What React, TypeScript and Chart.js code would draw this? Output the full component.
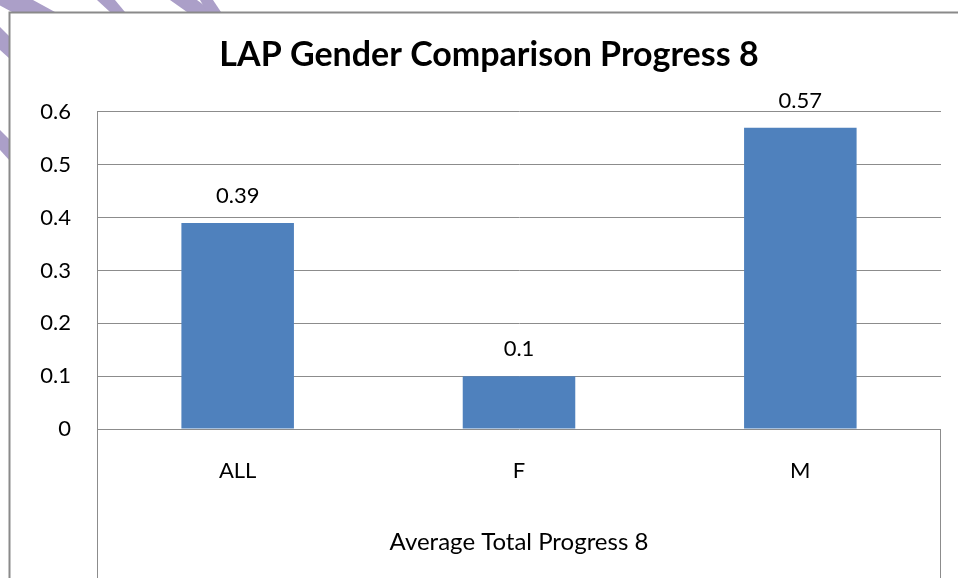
import React, { useEffect, useRef } from "react";
import { Chart, registerables } from "chart.js";

Chart.register(...registerables);

// ---- data ----
const categories = ["ALL", "F", "M"];
const values = [0.39, 0.1, 0.57];
const valueLabels = ["0.39", "0.1", "0.57"];
const yTicks = [0, 0.1, 0.2, 0.3, 0.4, 0.5, 0.6];
const chartTitle = "LAP Gender Comparison Progress 8";
const xAxisTitle = "Average Total Progress 8";

// ---- styling ----
const FONT = "Lato, 'Open Sans', sans-serif";
const BAR_COLOR = "#4F81BD";
const GRID_COLOR = "#8c8c8c";
const FRAME_COLOR = "#8a8a8a";
const STRIPE_COLOR = "#ab9fc8";
// decorative lavender stripes peeking out behind the frame (top-left corner)
const decorStripes: number[][][] = [
  [[-10, 0], [33, 0], [55, 12], [12, 12]],
  [[97, 0], [115, 0], [125, 12], [110, 12]],
  [[170, 0], [197, 0], [213, 12], [187, 12]],
  [[200, 0], [213, 0], [221, 12], [207, 12]],
  [[0, 27], [0, 50], [10, 59], [10, 37]],
  [[0, 130], [0, 150], [10, 161], [10, 140]],
];

const decorPlugin = {
  id: "decor",
  beforeDraw(chart: any) {
    const { ctx, width, height } = chart;
    ctx.save();
    ctx.fillStyle = "#ffffff";
    ctx.fillRect(0, 0, width, height);
    ctx.beginPath();
    ctx.rect(0, 0, width, 12);
    ctx.rect(0, 12, 9, height);
    ctx.clip();
    ctx.fillStyle = STRIPE_COLOR;
    for (const poly of decorStripes) {
      ctx.beginPath();
      poly.forEach(([x, y], i) => (i === 0 ? ctx.moveTo(x, y) : ctx.lineTo(x, y)));
      ctx.closePath();
      ctx.fill();
    }
    ctx.restore();
    ctx.save();
    ctx.strokeStyle = FRAME_COLOR;
    ctx.lineWidth = 2;
    ctx.beginPath();
    ctx.moveTo(9.5, height + 2);
    ctx.lineTo(9.5, 12.5);
    ctx.lineTo(width + 2, 12.5);
    ctx.stroke();
    ctx.restore();
  },
  afterDraw(chart: any) {
    const { ctx, chartArea, height } = chart;
    ctx.save();
    ctx.strokeStyle = GRID_COLOR;
    ctx.lineWidth = 1;
    ctx.beginPath();
    const l = Math.round(chartArea.left) + 0.5;
    const r = Math.round(chartArea.right) - 0.5;
    ctx.moveTo(l, chartArea.top);
    ctx.lineTo(l, height);
    ctx.moveTo(r, chartArea.bottom);
    ctx.lineTo(r, height);
    ctx.stroke();
    ctx.restore();
  },
  afterDatasetsDraw(chart: any) {
    const { ctx } = chart;
    const meta = chart.getDatasetMeta(0);
    ctx.save();
    ctx.fillStyle = "#000";
    ctx.font = `22px ${FONT}`;
    ctx.textAlign = "center";
    ctx.textBaseline = "alphabetic";
    meta.data.forEach((el: any, i: number) => {
      ctx.fillText(valueLabels[i], el.x, el.y - 20);
    });
    ctx.restore();
  },
};

export default function App() {
  const ref = useRef<HTMLCanvasElement | null>(null);

  useEffect(() => {
    if (!ref.current) return;
    const chart = new Chart(ref.current, {
      type: "bar",
      data: {
        labels: categories,
        datasets: [
          {
            data: values,
            backgroundColor: BAR_COLOR,
            borderWidth: 0,
            categoryPercentage: 1,
            barPercentage: 0.4,
          },
        ],
      },
      options: {
        responsive: false,
        animation: false,
        events: [],
        layout: { padding: { left: 37, right: 17, top: 0, bottom: 0 } },
        plugins: {
          legend: { display: false },
          tooltip: { enabled: false },
          title: {
            display: true,
            text: chartTitle,
            color: "#000",
            font: { family: FONT, size: 34, weight: "bold", lineHeight: 1.2 },
            padding: { top: 34.4, bottom: 36.8 },
          },
        },
        scales: {
          x: {
            grid: { display: false, drawTicks: false },
            border: { display: false },
            ticks: {
              color: "#000",
              font: { family: FONT, size: 22, lineHeight: 1.2 },
              padding: 29,
            },
            title: {
              display: true,
              text: xAxisTitle,
              color: "#000",
              font: { family: FONT, size: 24, lineHeight: 1.2 },
              padding: { top: 0, bottom: 21 },
            },
            afterFit: (s: any) => {
              s.height = 149;
            },
          },
          y: {
            min: yTicks[0],
            max: yTicks[yTicks.length - 1],
            grid: { color: GRID_COLOR, drawTicks: false, lineWidth: 1 },
            border: { display: true, color: GRID_COLOR },
            ticks: {
              stepSize: 0.1,
              color: "#000",
              font: { family: FONT, size: 22, lineHeight: 1.2 },
              padding: 26,
              callback: (v: any) => String(Number(Number(v).toFixed(1))),
            },
            afterFit: (s: any) => {
              s.width = 60;
            },
          },
        },
      },
      plugins: [decorPlugin],
    });
    return () => chart.destroy();
  }, []);

  return (
    <canvas
      ref={ref}
      width={958}
      height={578}
      style={{ position: "absolute", left: 0, top: 0, width: 958, height: 578, display: "block" }}
    />
  );
}
